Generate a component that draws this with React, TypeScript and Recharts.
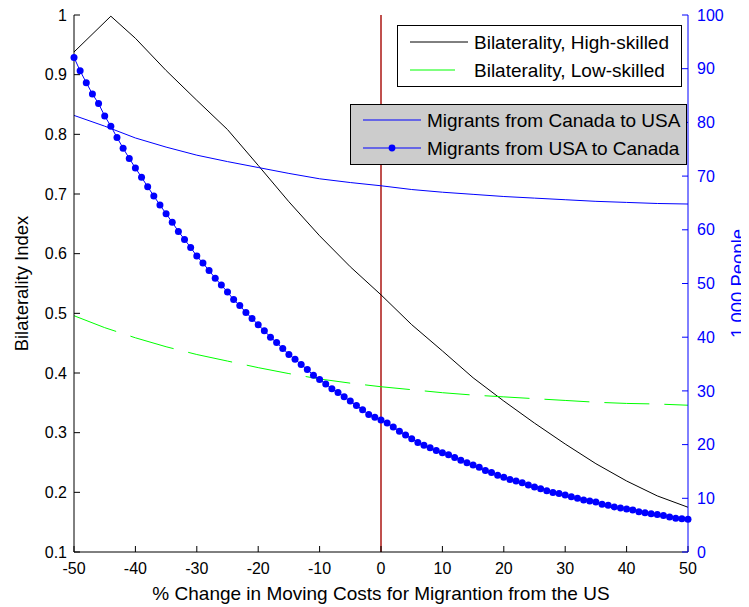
import React from 'react';
import { LineChart, Line, XAxis, YAxis, ReferenceLine, Legend } from 'recharts';

// Percentage change in moving costs (x grid, one step per point)
const xGrid: number[] = [];
for (let v = -50; v <= 50; v += 1) xGrid.push(v);

const xTicks = [-50, -40, -30, -20, -10, 0, 10, 20, 30, 40, 50];
const leftTicks = [0.1, 0.2, 0.3, 0.4, 0.5, 0.6, 0.7, 0.8, 0.9, 1];
const rightTicks = [0, 10, 20, 30, 40, 50, 60, 70, 80, 90, 100];

// Bilaterality index, high-skilled
const highSkilledX = [-50, -44, -40, -35, -30, -25, -20, -15, -10, -5, 0, 5, 10, 15, 20, 25, 30, 35, 40, 45, 50];
const highSkilled = [0.938, 0.998, 0.961, 0.907, 0.857, 0.808, 0.748, 0.687, 0.63, 0.578, 0.531, 0.481, 0.437, 0.392, 0.353, 0.316, 0.281, 0.248, 0.219, 0.194, 0.175];

// Bilaterality index, low-skilled
const lowSkilledX = [-50, -45, -40, -35, -30, -25, -20, -15, -10, -5, 0, 5, 10, 15, 20, 25, 30, 35, 40, 45, 50];
const lowSkilled = [0.496, 0.476, 0.459, 0.444, 0.431, 0.42, 0.409, 0.399, 0.39, 0.383, 0.377, 0.372, 0.367, 0.363, 0.36, 0.357, 0.354, 0.351, 0.349, 0.348, 0.346];

// Migrants from Canada to USA (1,000 people)
const canadaToUsaX = [-50, -45, -40, -35, -30, -25, -20, -15, -10, -5, 0, 5, 10, 15, 20, 25, 30, 35, 40, 45, 50];
const canadaToUsa = [81.3, 79.3, 77.1, 75.4, 73.9, 72.7, 71.6, 70.5, 69.5, 68.8, 68.2, 67.5, 67.0, 66.6, 66.2, 65.9, 65.6, 65.3, 65.1, 64.9, 64.8];

// Migrants from USA to Canada (1,000 people), one value per x from -50 to 50
const usaToCanada = [
  92.1, 89.6, 87.4, 85.3, 83.5, 81.2, 79.3, 77.2, 75.2, 73.3,
  71.5, 69.8, 68.0, 66.3, 64.6, 63.0, 61.4, 59.7, 58.2, 56.7,
  55.1, 53.8, 52.4, 51.0, 49.7, 48.4, 47.0, 45.9, 44.6, 43.5,
  42.3, 41.2, 40.0, 39.0, 37.9, 36.8, 35.9, 34.9, 34.0, 32.9,
  32.1, 31.3, 30.4, 29.7, 28.9, 28.1, 27.3, 26.5, 25.6, 25.1,
  24.6,
  24.0, 23.3, 22.5, 21.8, 21.1, 20.4, 19.9, 19.4, 18.9, 18.5,
  18.1, 17.6, 17.1, 16.6, 16.2, 15.8, 15.2, 14.8, 14.3, 13.9,
  13.5, 13.2, 12.9, 12.5, 12.1, 11.8, 11.4, 11.1, 10.9, 10.6,
  10.3, 10.0, 9.7, 9.5, 9.3, 8.9, 8.7, 8.4, 8.2, 8.0,
  7.8, 7.5, 7.3, 7.1, 7.0, 6.8, 6.5, 6.3, 6.2, 6.1,
];

const pick = (xs: number[], ys: number[], x: number) => {
  const i = xs.indexOf(x);
  return i >= 0 ? ys[i] : undefined;
};

const rows = xGrid.map((x, i) => ({
  x,
  high: pick(highSkilledX, highSkilled, x),
  low: pick(lowSkilledX, lowSkilled, x),
  caUs: pick(canadaToUsaX, canadaToUsa, x),
  usCa: usaToCanada[i],
}));

const FONT = '"Liberation Sans", Arial, Helvetica, sans-serif';
const BLUE = '#0000FF';
const GREEN = '#00FF00';
const GREEN_DASH = '45 15';

// plot frame inside the svg
const PLOT_TOP = 7;
const PLOT_BOTTOM = 544;
const PLOT_MID = (PLOT_TOP + PLOT_BOTTOM) / 2;

const leftKeys = ['high', 'low'];

const LegendEntry = ({ y, color, dash, dot, text }: any) => (
  <g>
    <line x1={12} x2={70} y1={y} y2={y} stroke={color} strokeWidth={1} strokeDasharray={dash} />
    {dot && <circle cx={41} cy={y} r={3.4} fill={color} />}
    <text x={76} y={y} dy="0.35em" fontSize={19} fill="#000" fontFamily={FONT}>
      {text}
    </text>
  </g>
);

const renderLegend = (props: any) => {
  const payload: any[] = props.payload || [];
  const leftItems = payload.filter((p) => leftKeys.includes(p.dataKey));
  const rightItems = payload.filter((p) => !leftKeys.includes(p.dataKey));
  return (
    <div>
      <div
        style={{
          position: 'absolute', left: 389, top: 17, width: 285, height: 62,
          boxSizing: 'border-box', border: '1px solid #000', background: '#fff',
        }}
      >
        <svg width={283} height={60} style={{ display: 'block', position: 'absolute', left: 0, top: 0 }}>
          {leftItems.map((p, i) => (
            <LegendEntry
              key={p.dataKey}
              y={16 + 28 * i}
              color={p.color}
              dash={p.dataKey === 'low' ? GREEN_DASH : undefined}
              text={p.value}
            />
          ))}
        </svg>
      </div>
      <div
        style={{
          position: 'absolute', left: 342, top: 96, width: 337, height: 61,
          boxSizing: 'border-box', border: '1px solid #000', background: '#cccccc',
        }}
      >
        <svg width={335} height={59} style={{ display: 'block', position: 'absolute', left: 0, top: 0 }}>
          {rightItems.map((p, i) => (
            <LegendEntry
              key={p.dataKey}
              y={15 + 28 * i}
              color={p.color}
              dot={p.dataKey === 'usCa'}
              text={p.value}
            />
          ))}
        </svg>
      </div>
    </div>
  );
};

const leftLabel = () => (
  <text
    transform={`translate(20,${PLOT_MID}) rotate(-90)`}
    textAnchor="middle"
    fontSize={18.5}
    fill="#000"
    fontFamily={FONT}
  >
    Bilaterality Index
  </text>
);

const rightLabel = () => (
  <text
    transform={`translate(736,${PLOT_MID}) rotate(-90)`}
    textAnchor="middle"
    fontSize={18.5}
    fill={BLUE}
    fontFamily={FONT}
  >
    1,000 People
  </text>
);

export default function App() {
  return (
    <div style={{ fontFamily: FONT }}>
      <LineChart width={741} height={599} data={rows} margin={{ top: PLOT_TOP, right: 0, bottom: 0, left: 0 }}>
        <XAxis
          xAxisId="bottom"
          dataKey="x"
          type="number"
          domain={[-50, 50]}
          ticks={xTicks}
          interval={0}
          stroke="#000"
          tickSize={-6}
          tickMargin={17}
          height={55}
          tick={{ fill: '#000', fontSize: 16 }}
          label={{ value: '% Change in Moving Costs for Migrantion from the US', position: 'insideBottom', offset: 7, fontSize: 19, fill: '#000' }}
        />
        <XAxis
          xAxisId="top"
          orientation="top"
          dataKey="x"
          type="number"
          domain={[-50, 50]}
          ticks={xTicks}
          interval={0}
          stroke="#000"
          tickSize={-6}
          height={0}
          tick={false}
        />
        <YAxis
          yAxisId="left"
          domain={[0.1, 1]}
          ticks={leftTicks}
          interval={0}
          stroke="#000"
          width={66}
          tickSize={-6}
          tickMargin={13}
          tick={{ fill: '#000', fontSize: 16 }}
          tickFormatter={(v: number) => String(v)}
          label={{ content: leftLabel }}
        />
        <YAxis
          yAxisId="leftBox"
          orientation="right"
          domain={[0.1, 1]}
          ticks={leftTicks}
          interval={0}
          stroke="#000"
          width={0}
          tickSize={-6}
          tick={false}
        />
        <YAxis
          yAxisId="right"
          orientation="right"
          domain={[0, 100]}
          ticks={rightTicks}
          interval={0}
          stroke={BLUE}
          width={61}
          tickSize={-6}
          tickMargin={15}
          tick={{ fill: BLUE, fontSize: 16 }}
          label={{ content: rightLabel }}
        />
        <ReferenceLine x={0} xAxisId="bottom" yAxisId="left" stroke="#C0504D" strokeWidth={2} />
        <Line
          xAxisId="bottom" yAxisId="left" dataKey="high" name="Bilaterality, High-skilled"
          type="linear" stroke="#000" strokeWidth={1} dot={false} connectNulls isAnimationActive={false}
        />
        <Line
          xAxisId="bottom" yAxisId="left" dataKey="low" name="Bilaterality, Low-skilled"
          type="linear" stroke={GREEN} strokeWidth={1} strokeDasharray={GREEN_DASH} dot={false} connectNulls isAnimationActive={false}
        />
        <Line
          xAxisId="bottom" yAxisId="right" dataKey="caUs" name="Migrants from Canada to USA"
          type="linear" stroke={BLUE} strokeWidth={1} dot={false} connectNulls isAnimationActive={false}
        />
        <Line
          xAxisId="bottom" yAxisId="right" dataKey="usCa" name="Migrants from USA to Canada"
          type="linear" stroke={BLUE} strokeWidth={1}
          dot={{ r: 3.5, fill: BLUE, stroke: 'none' }}
          isAnimationActive={false}
        />
        <Legend
          layout="horizontal"
          verticalAlign="middle"
          align="center"
          wrapperStyle={{ left: 0, top: 0, width: 741, height: 0 }}
          content={renderLegend}
        />
      </LineChart>
    </div>
  );
}
